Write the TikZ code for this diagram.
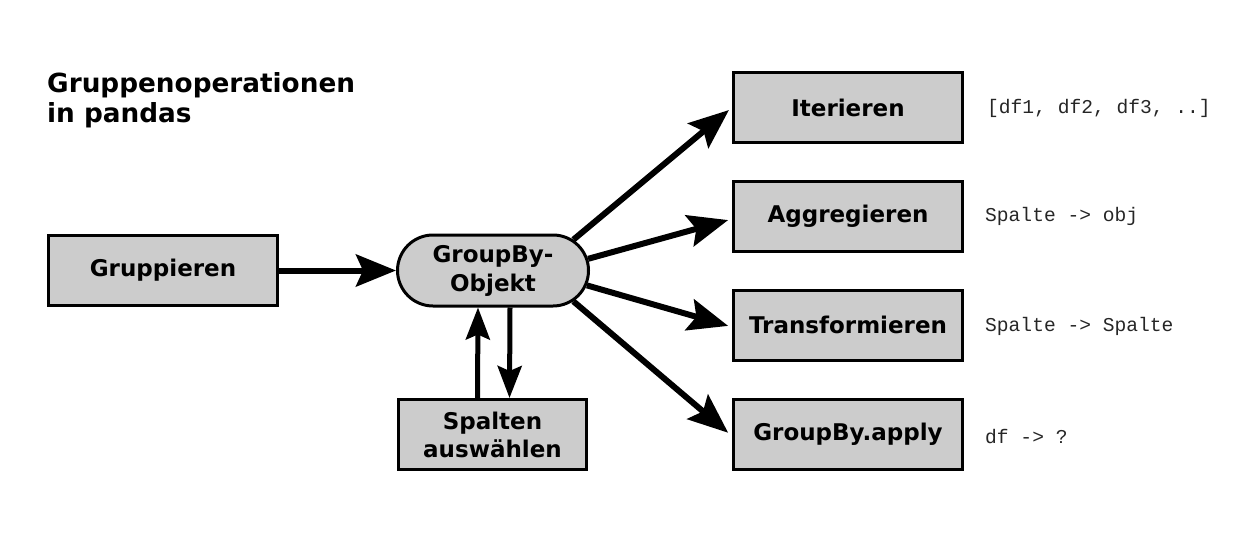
\documentclass[tikz,border=0pt]{standalone}
\usepackage{fontspec}
\setmainfont{DejaVu Sans}
\newfontfamily\monof{Liberation Mono}
\usetikzlibrary{arrows.meta,shapes.misc}
\begin{document}
\begin{tikzpicture}[x=1pt,y=-1pt,
  box/.style={draw=black,line width=3pt,fill=black!20,minimum width=229pt,minimum height=70pt,inner sep=0pt,font=\fontsize{23}{28}\selectfont\bfseries,align=center},
  pill/.style={rounded rectangle,draw=black,line width=3pt,fill=black!20,minimum width=191pt,minimum height=71pt,inner sep=0pt,font=\fontsize{23}{29}\selectfont\bfseries,align=center},
  big/.style={line width=6pt,-{Stealth[length=40pt,width=32pt,inset=7pt]}},
  small/.style={line width=5pt,-{Stealth[length=32pt,width=24pt,inset=5pt]}},
  code/.style={anchor=west,inner sep=0pt,text=black!85,font=\monof\fontsize{19.6}{24}\selectfont}]
\useasboundingbox (0,0) rectangle (1250,543);
\node[anchor=base west,align=left,inner sep=0pt,font=\fontsize{26.3}{30}\selectfont\bfseries] (title) at (47,122) {Gruppenoperationen\\in pandas};
\node[box] (gr) at (163,270.5) {Gruppieren};
\node[pill] (gb) at (493,270.5) {GroupBy-\\Objekt};
\node[box,minimum width=188pt] (sp) at (492.5,434.5) {Spalten\\auswählen};
\node[box] (it) at (848,107.5) {Iterieren};
\node[box] (ag) at (848,216) {Aggregieren};
\node[box] (tr) at (848,325) {Transformieren};
\node[box] (ap) at (848,434) {GroupBy.apply};
\node[code] (c1) at (987,108) {[df1, df2, df3, ..]};
\node[code] (c2) at (985,216) {Spalte -> obj};
\node[code] (c3) at (985,326) {Spalte -> Spalte};
\node[code] (c4) at (985,437) {df -> ?};
\draw[big] (gr.east) -- (gb.west);
\draw[small] ([xshift=-15pt]sp.north) -- ([xshift=-15pt]gb.south);
\draw[small] ([xshift=17pt]gb.south) -- ([xshift=17pt]sp.north);
\draw[big,shorten >=4pt] (gb.21) -- (it.west);
\draw[big,shorten >=4pt] (gb.7) -- ([yshift=-3pt]ag.west);
\draw[big,shorten >=4pt] (gb.-9) -- ([yshift=-2pt]tr.west);
\draw[big,shorten >=5pt] (gb.-21) -- ([yshift=-2pt]ap.west);
\end{tikzpicture}
\end{document}
